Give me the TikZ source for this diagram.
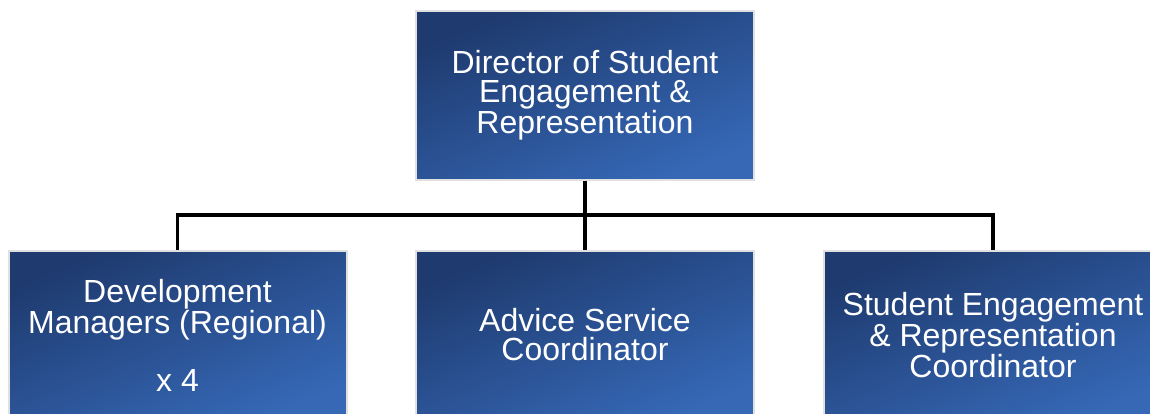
\documentclass[tikz,border=0pt]{standalone}
\usepackage{fontspec}
\setmainfont{Liberation Sans}
\definecolor{boxdark}{RGB}{30,58,110}
\definecolor{boxlight}{RGB}{54,104,182}
\definecolor{boxedge}{RGB}{224,224,224}
\begin{document}
\begin{tikzpicture}[x=1pt,y=-1pt,
  rolebox/.style={draw=boxedge, line width=2pt,
    top color=boxdark, bottom color=boxlight, shading angle=22,
    minimum width=338pt, minimum height=169pt, inner sep=0pt,
    text=white, align=center, font=\fontsize{32}{29}\selectfont},
  link/.style={line width=3.8pt, black}]
\clip (0,0) rectangle (1150,414);
\fill[white] (0,0) rectangle (1150,414);

% junction height of the horizontal bar
\coordinate (bus) at (585,215);

\node[rolebox] (dir) at (585,95.5) {Director of Student\\Engagement \&\\Representation};
\node[rolebox] (dev) at (177.5,335) {Development\\Managers (Regional)\\[29pt]x 4};
\node[rolebox] (adv) at (585,335) {Advice Service\\Coordinator};
\node[rolebox] (ser) at (993,335) {Student Engagement\\\& Representation\\Coordinator};

\draw[link] (dir.south) -- (adv.north);
\draw[link] (dev.north) -- (dev.north |- bus) -- (ser.north |- bus) -- (ser.north);
\end{tikzpicture}
\end{document}
